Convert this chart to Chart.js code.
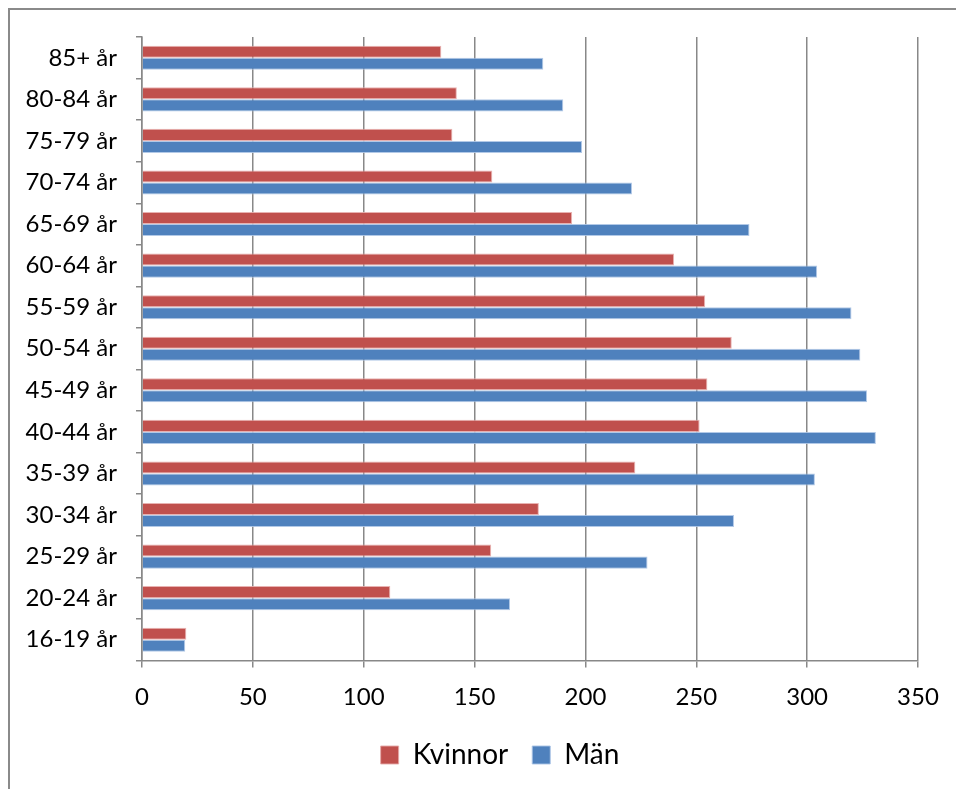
<!DOCTYPE html>
<html>
<head>
<meta charset="utf-8">
<script src="https://cdn.jsdelivr.net/npm/chart.js@4.4.1/dist/chart.umd.min.js"></script>
<style>
  html, body { margin: 0; padding: 0; background: #fff; overflow: hidden; }
  #box { position: absolute; left: 8px; top: 8px; width: 980px; height: 800px; border: 2px solid #8a8a8a; background: #fff; }
  canvas { display: block; }
</style>
</head>
<body>
<div id="box"><canvas id="c" width="980" height="790"></canvas></div>
<script>
const categories = ["85+ år","80-84 år","75-79 år","70-74 år","65-69 år","60-64 år","55-59 år","50-54 år","45-49 år","40-44 år","35-39 år","30-34 år","25-29 år","20-24 år","16-19 år"];
const kvinnor = [135, 142, 140, 158, 194, 240, 254, 266, 255, 251.5, 222.5, 179, 157.5, 112, 20];
const man = [181, 190, 198.5, 221, 274, 304.5, 320, 324, 327, 331, 303.5, 267, 228, 166, 19.5];
const xTicks = [0, 50, 100, 150, 200, 250, 300, 350];

Chart.defaults.font.family = "Lato, 'Open Sans', sans-serif";
Chart.defaults.color = "#000";

new Chart(document.getElementById('c'), {
  type: 'bar',
  data: {
    labels: categories,
    datasets: [
      { label: 'Kvinnor', data: kvinnor, backgroundColor: '#C0504D', borderColor: 'rgba(230,170,168,0.9)', borderWidth: 1, borderSkipped: 'start' },
      { label: 'Män', data: man, backgroundColor: '#4F81BD', borderColor: 'rgba(170,195,228,0.9)', borderWidth: 1, borderSkipped: 'start' }
    ]
  },
  options: {
    indexAxis: 'y',
    responsive: false,
    animation: false,
    devicePixelRatio: 1,
    datasets: { bar: { categoryPercentage: 0.58, barPercentage: 1.0 } },
    layout: { padding: { left: 0, right: 0, top: 27, bottom: 21 } },
    scales: {
      x: {
        min: 0, max: 350,
        afterBuildTicks: (s) => { s.ticks = xTicks.map(v => ({ value: v })); },
        afterFit: (s) => { s.height = 56.5; },
        ticks: { font: { size: 24 }, padding: 15, color: '#000', maxRotation: 0 },
        grid: { color: '#888', lineWidth: 1.5, tickLength: 7, drawTicks: true },
        border: { color: '#888', width: 1.5 }
      },
      y: {
        afterFit: (s) => { s.width = 132; },
        ticks: { font: { size: 24, lineHeight: 0.3 }, padding: 19, color: '#000', autoSkip: false },
        grid: { offset: true, drawOnChartArea: false, drawTicks: true, tickLength: 6, color: '#888', lineWidth: 1.5 },
        border: { color: '#888', width: 1.5 }
      },
      spacer: {
        type: 'linear', position: 'right', axis: 'y',
        afterFit: (s) => { s.width = 72; },
        ticks: { display: false },
        grid: { display: false, drawTicks: false },
        border: { display: false }
      }
    },
    plugins: {
      tooltip: { enabled: false },
      legend: {
        position: 'bottom',
        labels: { boxWidth: 18, boxHeight: 18, padding: 24, font: { size: 28 }, color: '#000' }
      }
    }
  }
});
</script>
</body>
</html>
